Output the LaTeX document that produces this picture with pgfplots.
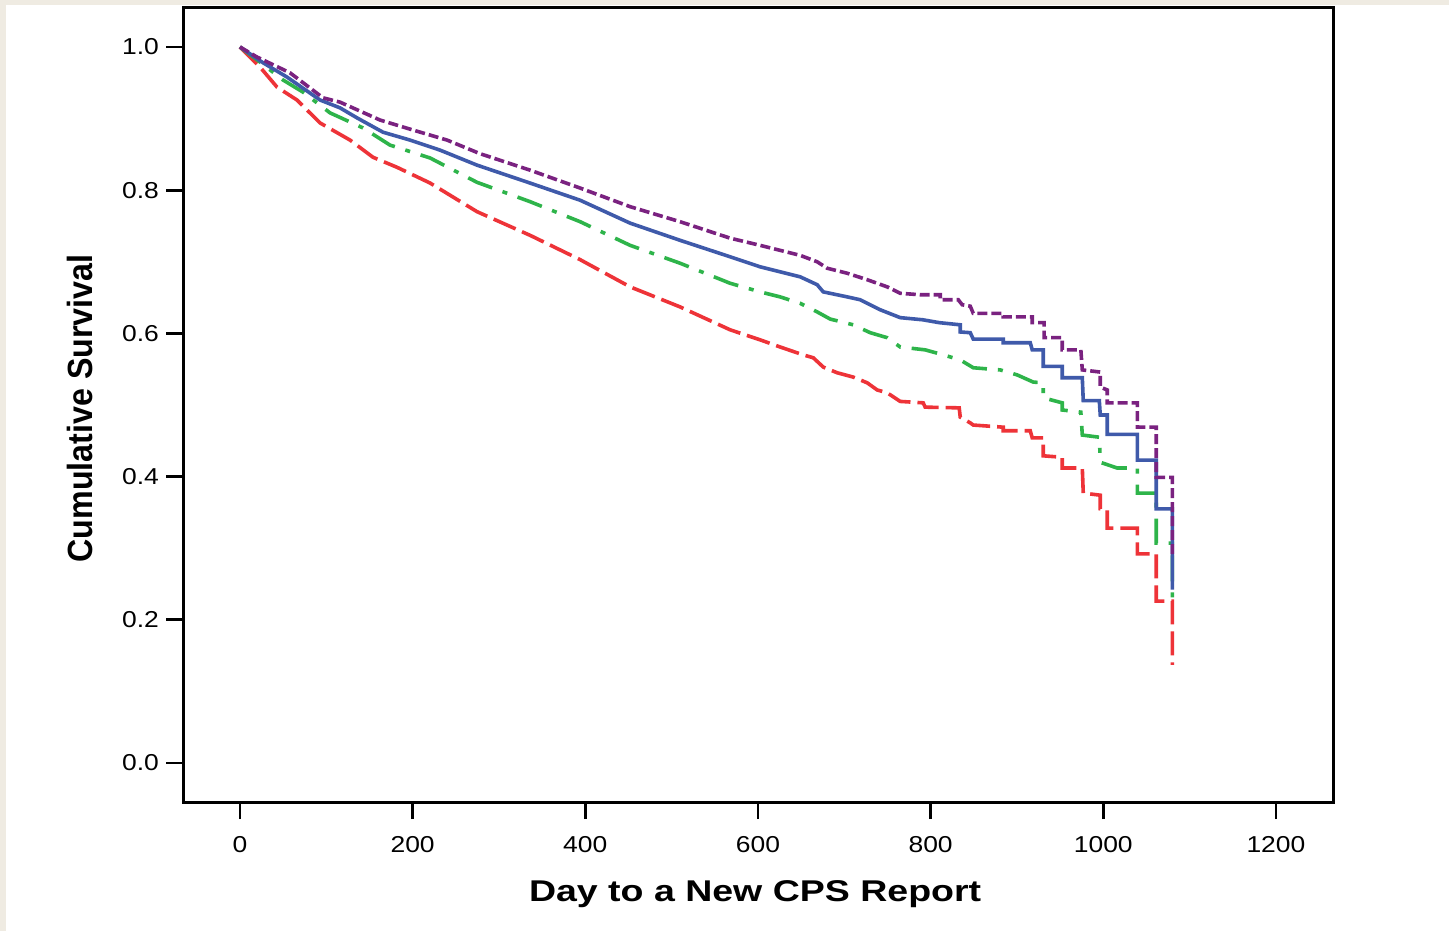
\documentclass[border=0pt]{standalone}
\usepackage{pgfplots}
\pgfplotsset{compat=1.18}
\usepackage{fontspec}
\setmainfont{Liberation Sans}[FakeStretch=1.25]
\newfontfamily\ylabfont{Liberation Sans}[FakeStretch=0.92]
\newfontfamily\tickfont{Liberation Sans}[FakeStretch=1.15]
\definecolor{bgbeige}{HTML}{EFEBE2}
\definecolor{cblue}{HTML}{3F5AAA}
\definecolor{cpurple}{HTML}{7A2280}
\definecolor{cgreen}{HTML}{2EB44A}
\definecolor{cred}{HTML}{EE3338}
\begin{document}
\begin{tikzpicture}
\fill[bgbeige] (-91.5pt,-64.5pt) rectangle (633pt,401pt);
\fill[white] (-88.5pt,-64.5pt) rectangle (633pt,398.5pt);
\begin{axis}[
  at={(0,0)}, anchor=south west,
  scale only axis, width=575pt, height=397pt,
  xmin=-66, xmax=1266.1, ymin=-0.0545, ymax=1.0545,
  xtick={0,200,400,600,800,1000,1200},
  ytick={0,0.2,0.4,0.6,0.8,1.0},
  /pgf/number format/1000 sep={},
  /pgf/number format/assume math mode=true,
  y tick label style={/pgf/number format/fixed, /pgf/number format/fixed zerofill, /pgf/number format/precision=1},
  x tick label style={yshift=-5pt},
  tick label style={font=\tickfont\fontsize{11.5}{13}\selectfont},
  tick align=outside, tick pos=left,
  major tick length=8.5pt,
  major tick style={line width=1.3pt, black},
  axis line style={line width=1.5pt},
  xlabel={Day to a New CPS Report},
  xlabel style={font=\fontsize{15}{17}\selectfont\bfseries, at={(axis description cs:0.4975,-0.1165)}, anchor=center},
  ylabel={Cumulative Survival},
  ylabel style={font=\ylabfont\fontsize{17.5}{20}\selectfont\bfseries, at={(axis description cs:-0.0896,0.4956)}, anchor=center},
]
% red
\addplot[cred, line width=1.8pt, dash pattern=on 12pt off 3.5pt] coordinates {
(0,1.0) (23.2,0.972) (42.9,0.944) (66,0.926) (92.7,0.894) (127.5,0.870) (154.1,0.846) (181.9,0.832) (220.2,0.810) (274.6,0.770) (336,0.737) (394,0.703) (451.9,0.665) (509.8,0.637) (567.8,0.605) (602.5,0.591) (625.7,0.581) (652.4,0.570) (664,0.566) (675.6,0.553) (691.8,0.545) (710.3,0.539) (726.5,0.531) (738.1,0.521) (749.7,0.517) (764.8,0.505)
(791.4,0.503) (793.7,0.497) (833.1,0.496) (834.3,0.483) (845.9,0.475) (849.4,0.472) (884.1,0.469) (884.1,0.464) (915.4,0.464) (917.7,0.454) (930.5,0.454) (930.5,0.429) (952.5,0.427) (952.5,0.412) (975.7,0.412) (976.8,0.377) (996.5,0.374) (996.5,0.355) (1004.6,0.353) (1004.6,0.328) (1039.4,0.328) (1039.4,0.292) (1061.4,0.292) (1061.4,0.226) (1080,0.226) (1080,0.137)
};
% green
\addplot[cgreen, line width=1.8pt, dash pattern=on 13pt off 5.5pt on 2.5pt off 5.5pt] coordinates {
(0,1.0) (23.2,0.979) (49.8,0.954) (73,0.937) (104.3,0.908) (142.5,0.887) (173.8,0.863) (220.2,0.845) (274.6,0.811) (336,0.784) (394,0.756) (451.9,0.723) (509.8,0.698) (567.8,0.670) (602.5,0.658) (625.7,0.651) (648.9,0.642) (668.6,0.630) (683.7,0.620) (710.3,0.612) (730,0.601) (749.7,0.594) (764.8,0.581)
(793.7,0.577) (814.6,0.570) (834.3,0.563) (849.4,0.552) (880.6,0.549) (900.3,0.542) (918.9,0.532) (930.5,0.531) (930.5,0.510) (952.5,0.503) (952.5,0.493) (974,0.490) (975.7,0.458) (995.5,0.455) (996.5,0.420) (1016,0.412) (1039.4,0.412) (1039.4,0.377) (1061.4,0.377) (1061.4,0.307) (1080,0.307) (1080,0.221)
};
% blue
\addplot[cblue, line width=1.8pt] coordinates {
(0,1.0) (26.7,0.978) (54.5,0.958) (92.7,0.926) (115.9,0.915) (135.6,0.901) (165.7,0.881) (197,0.870) (231.7,0.856) (274.6,0.835) (336,0.810) (394,0.786) (451.9,0.754) (509.8,0.730) (567.8,0.707) (602.5,0.693) (625.7,0.686) (648.9,0.679) (668.6,0.668) (675.6,0.658) (703.4,0.651) (718.4,0.647) (730,0.640) (741.6,0.633) (764.8,0.622)
(791,0.619) (810,0.615) (834.3,0.612) (834.3,0.602) (845.9,0.601) (849.4,0.592) (884.1,0.592) (884.1,0.587) (915.4,0.587) (917.7,0.577) (930.5,0.577) (930.5,0.554) (952.5,0.554) (952.5,0.538) (975.7,0.538) (976.8,0.506) (995.4,0.506) (996.5,0.486) (1004.6,0.486) (1004.6,0.459) (1039.4,0.459) (1039.4,0.423) (1061.4,0.423) (1061.4,0.355) (1080,0.355) (1080,0.242)
};
% purple
\addplot[cpurple, line width=1.8pt, dash pattern=on 5pt off 2pt] coordinates {
(0,1.0) (19.7,0.986) (57.9,0.964) (96.2,0.929) (115.9,0.923) (162.2,0.898) (200.5,0.884) (239.9,0.870) (278.1,0.851) (336,0.828) (394,0.803) (451.9,0.777) (509.8,0.756) (567.8,0.733) (602.5,0.723) (625.7,0.716) (648.9,0.709) (668.6,0.700) (680.2,0.691) (703.4,0.684) (726.5,0.675) (749.7,0.665) (764.8,0.656)
(788,0.654) (811.1,0.654) (811.1,0.647) (832,0.647) (836.6,0.640) (845.9,0.638) (849.4,0.628) (884.1,0.628) (884.1,0.623) (917.7,0.623) (917.7,0.615) (931.5,0.615) (931.5,0.594) (952.5,0.594) (952.5,0.577) (974,0.577) (975.7,0.549) (996.5,0.546) (996.5,0.525) (1004.6,0.521) (1004.6,0.503) (1039.4,0.503) (1039.4,0.469) (1061.4,0.469) (1061.4,0.399) (1080,0.399) (1080,0.288)
};
\end{axis}
\pgfresetboundingbox
\path[use as bounding box] (-91.5pt,-64.5pt) rectangle (633pt,401pt);
\end{tikzpicture}
\end{document}
